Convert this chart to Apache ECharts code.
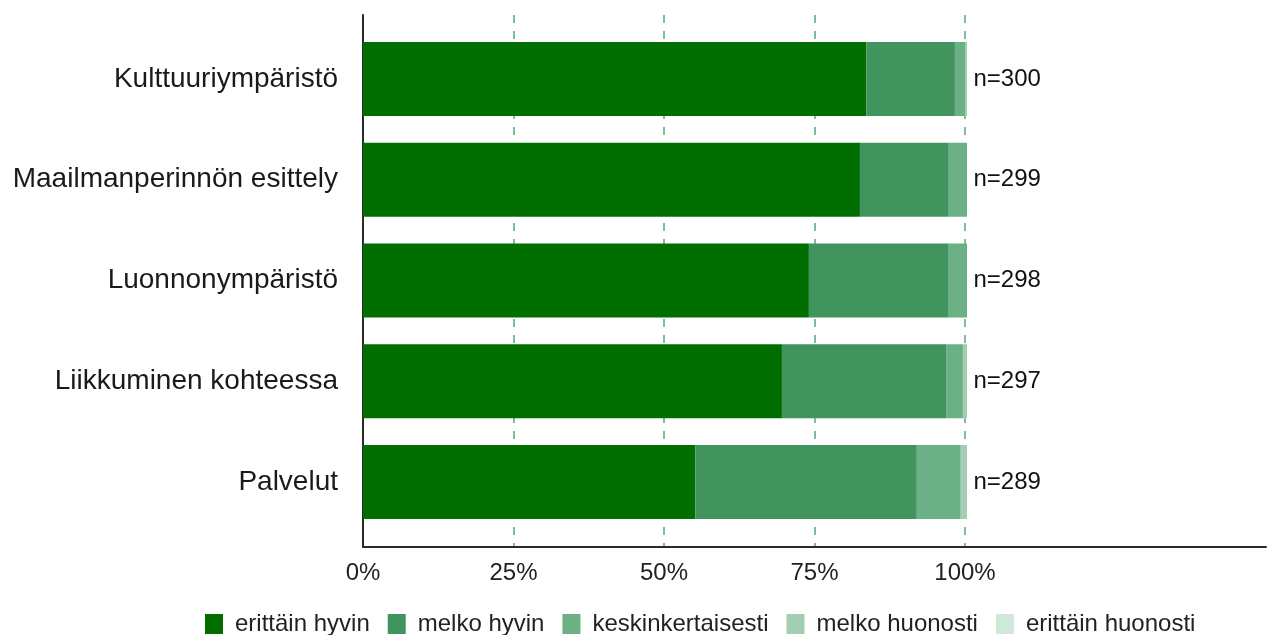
<!DOCTYPE html>
<html>
<head>
<meta charset="utf-8">
<script src="https://cdn.jsdelivr.net/npm/echarts@6/dist/echarts.min.js"></script>
<style>
html,body{margin:0;padding:0;background:#fff;}
#chart{width:1269px;height:635px;}
</style>
</head>
<body>
<div id="chart"></div>
<script>
const categories = ['Kulttuuriympäristö', 'Maailmanperinnön esittely', 'Luonnonympäristö', 'Liikkuminen kohteessa', 'Palvelut'];
const nValues = [300, 299, 298, 297, 289];
const seriesNames = ['erittäin hyvin', 'melko hyvin', 'keskinkertaisesti', 'melko huonosti', 'erittäin huonosti'];
// answer counts per category
const erittainHyvin = [250, 246, 220, 206, 159];
const melkoHyvin = [44, 44, 69, 81, 106];
const keskinkertaisesti = [5, 9, 9, 8, 21];
const melkoHuonosti = [1, 0, 0, 2, 3];
const erittainHuonosti = [0, 0, 0, 0, 0];
const tickLabels = ['0%', '25%', '50%', '75%', '100%'];
const colors = ['#006f00', '#42945f', '#6cb086', '#a2cfb3', '#d0e8d8'];

const counts = [erittainHyvin, melkoHyvin, keskinkertaisesti, melkoHuonosti, erittainHuonosti];
const font = '"Liberation Sans", Arial, sans-serif';
const gridGreen = '#55a97c';

const chart = echarts.init(document.getElementById('chart'));

const barSeries = seriesNames.map((name, i) => ({
  name: name,
  type: 'bar',
  stack: 'total',
  xAxisIndex: 1,
  yAxisIndex: 1,
  barWidth: 74,
  itemStyle: { color: colors[i] },
  data: counts[i].map((c, j) => c / nValues[j] * 100)
}));

const option = {
  animation: false,
  textStyle: { fontFamily: font },
  legend: {
    data: seriesNames,
    left: 205,
    top: 612,
    padding: 0,
    itemWidth: 18,
    itemHeight: 20,
    itemGap: 18,
    icon: 'rect',
    textStyle: { fontSize: 24, color: '#222', fontFamily: font, padding: [0, 0, 0, 7] }
  },
  grid: [
    { left: 363, right: 0, top: 15, bottom: 88.5 },
    { left: 363, right: 0, top: 28.6, bottom: 102.6 }
  ],
  xAxis: [
    {
      type: 'value', gridIndex: 0, min: 0, max: 150, interval: 25,
      axisLine: { show: true, lineStyle: { color: '#2a2a2a', width: 2 } },
      axisTick: { show: false },
      axisLabel: {
        fontSize: 24, color: '#222', margin: 15, fontFamily: font,
        formatter: v => (v <= 100 ? tickLabels[v / 25] : '')
      },
      splitLine: {
        show: true, showMaxLine: false,
        lineStyle: {
          color: [gridGreen, gridGreen, gridGreen, gridGreen, gridGreen, 'rgba(0,0,0,0)', 'rgba(0,0,0,0)'],
          type: [8, 8], width: 1.5
        }
      }
    },
    {
      type: 'value', gridIndex: 1, min: 0, max: 150, interval: 25, show: false,
      splitLine: { show: false }
    }
  ],
  yAxis: [
    {
      type: 'category', gridIndex: 0, data: categories, inverse: true,
      axisLine: { show: true, lineStyle: { color: '#2a2a2a', width: 2 } },
      axisTick: { show: false },
      axisLabel: { show: false },
      splitLine: { show: false }
    },
    {
      type: 'category', gridIndex: 1, data: categories, inverse: true,
      axisLine: { show: false },
      axisTick: { show: false },
      axisLabel: { fontSize: 28, color: '#1a1a1a', margin: 25, fontFamily: font }
    }
  ],
  series: barSeries.concat([{
    name: 'n',
    type: 'scatter',
    xAxisIndex: 1,
    yAxisIndex: 1,
    symbolSize: 1,
    itemStyle: { color: 'rgba(0,0,0,0)' },
    silent: true,
    data: categories.map((c, j) => [100, c]),
    label: {
      show: true, position: 'right', distance: 6, opacity: 1,
      fontSize: 24, color: '#111', fontFamily: font,
      formatter: p => 'n=' + nValues[p.dataIndex]
    }
  }])
};

chart.setOption(option);
</script>
</body>
</html>
